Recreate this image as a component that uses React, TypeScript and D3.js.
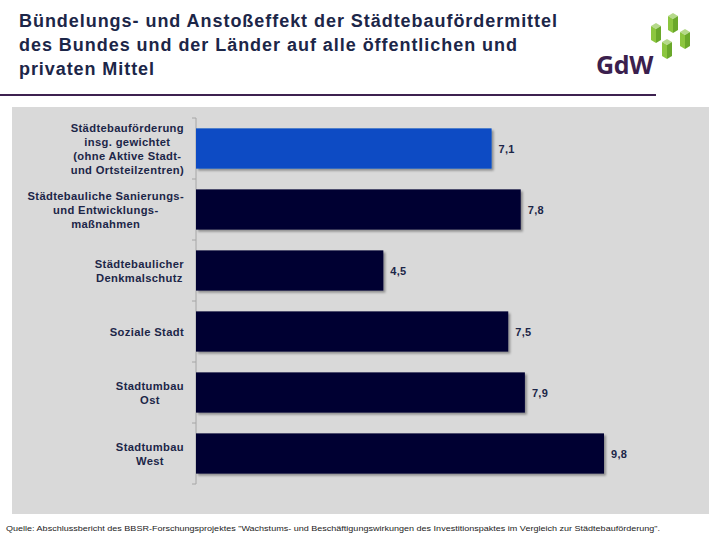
import React from "react";
import * as d3 from "d3";

const categories: string[][] = [
  ["Städtebauförderung", "insg. gewichtet", "(ohne Aktive Stadt-", "und Ortsteilzentren)"],
  ["Städtebauliche Sanierungs-", "und Entwicklungs-", "maßnahmen"],
  ["Städtebaulicher", "Denkmalschutz"],
  ["Soziale Stadt"],
  ["Stadtumbau", "Ost"],
  ["Stadtumbau", "West"],
];
const values: number[] = [7.1, 7.8, 4.5, 7.5, 7.9, 9.8];
const valueLabels: string[] = ["7,1", "7,8", "4,5", "7,5", "7,9", "9,8"];
const titleLines: string[] = [
  "Bündelungs- und Anstoßeffekt der Städtebaufördermittel",
  "des Bundes und der Länder auf alle öffentlichen und",
  "privaten Mittel",
];
const titleWidths: number[] = [538, 498, 135];
const source =
  'Quelle: Abschlussbericht des BBSR-Forschungsprojektes "Wachstums- und Beschäftigungswirkungen des Investitionspaktes im Vergleich zur Städtebauförderung".';

const LABEL_FONT_SIZE = 11.2;
const LABEL_SPACING = 0.35;

function measure(text: string): number {
  if (typeof document === "undefined") return text.length * 6.5;
  const c = document.createElement("canvas");
  const ctx = c.getContext("2d");
  if (!ctx) return text.length * 6.5;
  ctx.font = `bold ${LABEL_FONT_SIZE}px "Liberation Sans", Arial, sans-serif`;
  return ctx.measureText(text).width + text.length * LABEL_SPACING;
}

export default function App() {
  const W = 720, H = 540;
  const x0 = 196;
  const x = d3.scaleLinear().domain([0, 9.8]).range([x0, 604]);
  const y = d3
    .scaleBand<number>()
    .domain(d3.range(categories.length))
    .range([118, 484])
    .paddingInner(0.34)
    .paddingOuter(0.17);
  const ticks = d3.range(categories.length + 1).map((i) => 118 + (i * (484 - 118)) / categories.length);
  const navy = "#1c2648";
  const labelRight = 184;

  const cubes = [
    [656, 26],
    [673, 16],
    [685, 32],
    [667, 42],
  ];

  return (
    <svg width={W} height={H} style={{ position: "absolute", left: 0, top: 0 }} fontFamily="Liberation Sans, Arial, sans-serif">
      <defs>
        <filter id="sh" x="-5%" y="-20%" width="115%" height="150%">
          <feDropShadow dx="2" dy="2" stdDeviation="1.2" floodColor="#000" floodOpacity="0.35" />
        </filter>
      </defs>
      <rect width={W} height={H} fill="#fff" />
      {titleLines.map((t, i) => (
        <text
          key={i}
          x={19}
          y={27 + i * 24}
          fontSize={18}
          fontWeight="bold"
          fill={navy}
          textLength={titleWidths[i]}
          lengthAdjust="spacing"
        >
          {t}
        </text>
      ))}
      <line x1={0} x2={656} y1={95} y2={95} stroke="#3d2150" strokeWidth={2} />
      {/* logo */}
      <text x={596} y={74} fontSize={25} fontWeight="bold" fill="#3b1f4e" fontFamily="Open Sans, sans-serif" letterSpacing={-0.3}>
        GdW
      </text>
      {cubes.map(([cx, cy], i) => (
        <g key={i}>
          <polygon points={`${cx - 5},${cy} ${cx},${cy - 3} ${cx + 5},${cy} ${cx},${cy + 3}`} fill="#b5d98a" />
          <polygon points={`${cx - 5},${cy} ${cx},${cy + 3} ${cx},${cy + 17} ${cx - 5},${cy + 14}`} fill="#8cc63f" />
          <polygon points={`${cx},${cy + 3} ${cx + 5},${cy} ${cx + 5},${cy + 14} ${cx},${cy + 17}`} fill="#6aa82a" />
        </g>
      ))}
      {/* panel */}
      <rect x={12} y={107} width={697} height={407} fill="#d9d9d9" />
      {/* axis */}
      <line x1={x0} x2={x0} y1={118} y2={484} stroke="#a6a6a6" strokeWidth={1} />
      {ticks.map((t, i) => (
        <line key={i} x1={x0 - 4} x2={x0} y1={t} y2={t} stroke="#a6a6a6" strokeWidth={1} />
      ))}
      {values.map((v, i) => {
        const lines = categories[i];
        const maxW = Math.max(...lines.map(measure));
        const cx = labelRight - maxW / 2;
        return (
          <g key={i}>
            <rect
              x={x(0)}
              y={y(i)!}
              width={x(v) - x(0)}
              height={y.bandwidth()}
              fill={i === 0 ? "#0a4cc4" : "#000033"}
              filter="url(#sh)"
            />
            <text x={x(v) + 7} y={y(i)! + y.bandwidth() / 2 + 4} fontSize={11} fontWeight="bold" fill={navy} letterSpacing={0.3}>
              {valueLabels[i]}
            </text>
            {lines.map((l, j) => (
              <text
                key={j}
                x={cx}
                y={y(i)! + y.bandwidth() / 2 + 4 + (j - (lines.length - 1) / 2) * 14}
                fontSize={LABEL_FONT_SIZE}
                fontWeight="bold"
                fill={navy}
                letterSpacing={LABEL_SPACING}
                textAnchor="middle"
              >
                {l}
              </text>
            ))}
          </g>
        );
      })}
      <text x={6} y={531} fontSize={8} fill="#222" textLength={654} lengthAdjust="spacingAndGlyphs">
        {source}
      </text>
    </svg>
  );
}
